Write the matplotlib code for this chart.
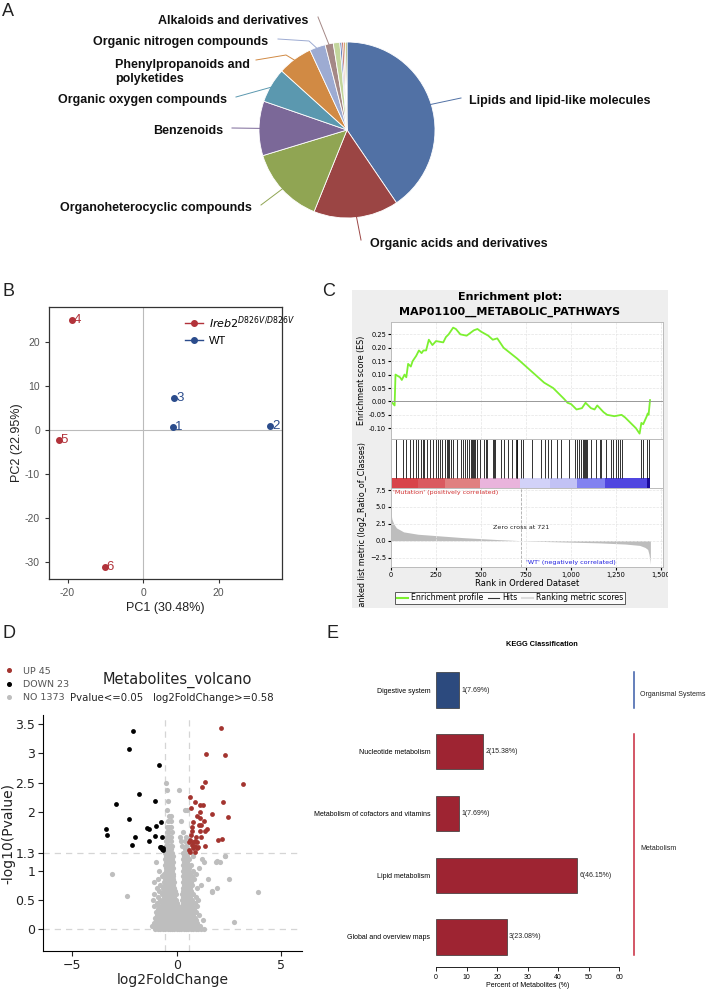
import matplotlib
matplotlib.use('Agg')
import matplotlib.pyplot as plt
import numpy as np
from matplotlib.lines import Line2D
from matplotlib.patches import Rectangle
from matplotlib.transforms import Bbox, TransformedBbox
from matplotlib.ticker import FuncFormatter

# ---------------- data ----------------
# A: compound classes (share of annotated metabolites, %)
pie_classes = ['Lipids and lipid-like molecules', 'Organic acids and derivatives',
               'Organoheterocyclic compounds', 'Benzenoids', 'Organic oxygen compounds',
               'Phenylpropanoids and\npolyketides', 'Organic nitrogen compounds',
               'Alkaloids and derivatives', '', '', '', '', '']
pie_share = [40.5, 15.6, 14.2, 10.0, 6.4, 6.4, 2.9, 1.5, 1.2, 0.35, 0.35, 0.3, 0.3]
pie_colors = ['#5171A5', '#9B4544', '#90A553', '#7B6898', '#5B98AF', '#D18A44',
              '#9DABD2', '#A48886', '#C3D59C', '#4F6FB0', '#B04A46', '#D08A46', '#91A552']

# B: PCA scores
pca_id = ['1', '2', '3', '4', '5', '6']
pca_pc1 = [8.0, 33.7, 8.2, -18.8, -22.3, -10.2]
pca_pc2 = [0.6, 0.8, 7.3, 24.9, -2.4, -31.1]
pca_group = ['WT', 'WT', 'WT', 'MUT', 'MUT', 'MUT']

# C: GSEA running enrichment score
es_rank = [0, 20, 25, 50, 60, 75, 85, 95, 110, 120, 140, 155, 170, 180, 195, 210, 230, 250,
           290, 305, 320, 335, 345, 360, 385, 420, 440, 460, 480, 500, 540, 565, 590, 625,
           700, 800, 850, 900, 960, 980, 1000, 1030, 1060, 1080, 1110, 1130, 1145, 1180,
           1200, 1240, 1280, 1300, 1330, 1360, 1380, 1390, 1400, 1410, 1420, 1425, 1430, 1438]
es_score = [0.0, -0.015, 0.10, 0.09, 0.08, 0.10, 0.09, 0.14, 0.13, 0.15, 0.17, 0.19, 0.18,
            0.19, 0.19, 0.23, 0.21, 0.225, 0.22, 0.24, 0.25, 0.265, 0.275, 0.27, 0.25, 0.245,
            0.255, 0.265, 0.27, 0.26, 0.245, 0.23, 0.235, 0.20, 0.16, 0.10, 0.07, 0.05, 0.01,
            -0.005, -0.01, -0.03, -0.025, -0.005, -0.025, -0.03, -0.015, -0.04, -0.05, -0.055,
            -0.05, -0.06, -0.08, -0.10, -0.12, -0.08, -0.085, -0.07, -0.055, -0.045, -0.05, 0.005]
hit_rank = [26, 65, 81, 105, 120, 139, 152, 165, 176, 183, 201, 216, 235, 250, 262, 272, 285,
            299, 309, 314, 323, 333, 346, 364, 388, 401, 410, 420, 433, 442, 447, 453, 460,
            466, 479, 494, 518, 527, 534, 567, 573, 580, 608, 627, 651, 673, 693, 697, 701,
            719, 734, 780, 835, 854, 872, 891, 919, 946, 987, 1020, 1030, 1044, 1057, 1067,
            1072, 1078, 1081, 1089, 1113, 1137, 1159, 1168, 1196, 1220, 1233, 1248, 1261,
            1274, 1285, 1386, 1399, 1421, 1433]
bar_start = [0, 150, 300, 495, 717, 880, 1032, 1190, 1421]
bar_end = [150, 300, 495, 717, 880, 1032, 1190, 1421, 1440]
bar_colors = ['#D8444A', '#DA5A60', '#E08080', '#E9B4DC', '#D2D2F8', '#C2C2F5',
              '#8282F0', '#5046E0', '#1A0A9A']
metric_rank = [0, 5, 15, 30, 70, 150, 290, 400, 500, 600, 721, 850, 1000, 1150, 1300,
               1380, 1410, 1425, 1432, 1438, 1440]
metric_value = [4.0, 3.2, 2.5, 1.9, 1.3, 0.95, 0.67, 0.45, 0.3, 0.15, 0.0, -0.12, -0.22,
                -0.32, -0.5, -0.7, -1.0, -1.3, -2.0, -3.0, -3.5]
zero_cross = 721

# D: volcano
n_up, n_down, n_no = 45, 23, 1373
up_x = [2.12, 1.39, 2.32, 3.16, 1.36, 1.19, 0.61, 0.85, 1.09, 1.27, 2.23, 0.66, 1.12, 1.70,
        2.45, 0.96, 1.09, 1.31, 0.80, 1.06, 1.17, 1.44, 1.33, 0.75, 0.72, 1.12, 0.67, 0.93,
        1.14, 1.97, 2.16, 0.64, 0.77, 0.85, 0.96, 0.59, 0.72, 0.88, 1.04, 1.33, 0.80, 0.64,
        0.85, 0.99, 0.60]
up_y = [3.43, 2.99, 2.97, 2.47, 2.51, 2.42, 2.25, 2.16, 2.12, 2.12, 2.16, 2.06, 2.00, 1.96,
        1.92, 1.93, 1.89, 1.85, 1.82, 1.78, 1.77, 1.70, 1.68, 1.75, 1.68, 1.68, 1.61, 1.57,
        1.57, 1.52, 1.54, 1.52, 1.49, 1.51, 1.48, 1.48, 1.44, 1.42, 1.40, 1.42, 1.38, 1.32,
        1.31, 1.38, 1.35]
down_x = [-2.12, -2.31, -0.85, -1.79, -2.90, -1.04, -2.28, -3.41, -3.33, -2.00, -2.16,
          -1.44, -1.33, -0.99, -0.77, -1.04, -1.31, -0.69, -0.80, -0.71, -0.64, -0.74, -0.67]
down_y = [3.37, 3.07, 2.79, 2.30, 2.13, 2.19, 1.87, 1.70, 1.60, 1.57, 1.43, 1.73, 1.70,
          1.76, 1.82, 1.59, 1.51, 1.58, 1.40, 1.37, 1.38, 1.41, 1.35]
# non-significant cloud, read row by row (y, x values)
ns_rows = [
    (0.01, [-1.05, -0.9, -0.78, -0.66, -0.55, -0.44, -0.33, -0.22, -0.11, 0.0, 0.11, 0.22,
            0.33, 0.44, 0.55, 0.66, 0.78, 0.9, 1.02, 1.15, 1.3]),
    (0.05, [-1.2, -0.98, -0.84, -0.72, -0.6, -0.49, -0.38, -0.27, -0.16, -0.05, 0.06, 0.17,
            0.28, 0.39, 0.5, 0.61, 0.72, 0.84, 0.97, 1.1]),
    (0.10, [-1.1, -0.92, -0.78, -0.66, -0.55, -0.44, -0.33, -0.22, -0.11, 0.0, 0.11, 0.22,
            0.33, 0.44, 0.55, 0.68, 0.82, 0.96]),
    (0.15, [-1.0, -0.85, -0.72, -0.6, -0.49, -0.38, -0.27, -0.16, -0.05, 0.06, 0.17, 0.28,
            0.39, 0.5, 0.62, 0.75, 0.9, 1.25]),
    (0.20, [-1.05, -0.9, -0.77, -0.65, -0.54, -0.43, -0.32, -0.21, -0.1, 0.01, 0.12, 0.23,
            0.34, 0.45, 0.57, 0.7, 0.86]),
    (0.25, [-0.95, -0.8, -0.68, -0.57, -0.46, -0.35, -0.24, -0.13, -0.02, 0.09, 0.2, 0.31,
            0.42, 0.53, 0.65, 0.8, 1.05]),
    (0.30, [-1.0, -0.83, -0.7, -0.6, -0.5, -0.4, -0.3, -0.2, -0.1, 0.0, 0.12, 0.25, 0.36,
            0.47, 0.58, 0.72, 0.9]),
    (0.35, [-0.9, -0.75, -0.63, -0.53, -0.43, -0.33, -0.23, -0.13, -0.03, 0.08, 0.2, 0.31,
            0.42, 0.53, 0.65, 0.82]),
    (0.40, [-1.1, -0.85, -0.68, -0.57, -0.47, -0.37, -0.27, -0.17, -0.07, 0.04, 0.26, 0.37,
            0.48, 0.6, 0.75, 0.95]),
    (0.45, [-0.95, -0.72, -0.6, -0.5, -0.4, -0.3, -0.2, -0.1, 0.0, 0.3, 0.42, 0.53, 0.66, 0.85]),
    (0.50, [-1.15, -0.8, -0.65, -0.54, -0.44, -0.34, -0.24, -0.14, -0.04, 0.25, 0.36, 0.47,
            0.58, 0.72, 1.0]),
    (0.55, [-0.88, -0.62, -0.51, -0.41, -0.31, -0.21, -0.11, 0.3, 0.41, 0.52, 0.65, 0.9]),
    (0.60, [-1.1, -0.7, -0.56, -0.46, -0.36, -0.26, -0.16, -0.06, 0.27, 0.38, 0.49, 0.6, 0.78]),
    (0.65, [-0.85, -0.6, -0.5, -0.4, -0.3, -0.2, -0.1, 0.32, 0.43, 0.54, 0.7, 1.7]),
    (0.70, [-0.95, -0.65, -0.54, -0.44, -0.34, -0.24, -0.14, 0.28, 0.39, 0.5, 0.62, 0.95]),
    (0.75, [-0.78, -0.58, -0.48, -0.38, -0.28, -0.18, 0.33, 0.45, 0.56, 0.75, 1.15]),
    (0.80, [-1.1, -0.62, -0.52, -0.42, -0.32, -0.22, -0.12, 0.3, 0.41, 0.52, 0.66]),
    (0.85, [-0.88, -0.56, -0.46, -0.36, -0.26, -0.16, 0.35, 0.47, 0.6, 0.82, 1.5]),
    (0.90, [-0.7, -0.5, -0.4, -0.3, -0.2, 0.3, 0.42, 0.54, 0.72]),
    (0.95, [-0.6, -0.48, -0.38, -0.28, -0.18, 0.35, 0.47, 0.62, 0.9]),
    (1.00, [-0.85, -0.54, -0.44, -0.34, -0.24, 0.28, 0.4, 0.52, 0.8]),
    (1.05, [-0.5, -0.4, -0.3, -0.2, 0.33, 0.45, 0.58, 1.05]),
    (1.10, [-0.55, -0.45, -0.35, -0.25, 0.3, 0.42, 0.55, 0.7]),
    (1.15, [-1.0, -0.5, -0.4, -0.3, -0.2, 0.35, 0.48, 1.3, 1.9]),
    (1.20, [-0.55, -0.45, -0.35, -0.25, 0.3, 0.42, 0.6, 1.2]),
    (1.25, [-0.5, -0.4, -0.3, -0.2, 0.36, 0.5, 0.8, 2.3]),
    (1.30, [-0.55, -0.45, -0.35, -0.25, 0.3, 0.45]),
    (1.36, [-0.5, -0.4, -0.3, 0.38, 0.5]),
    (1.42, [-0.52, -0.42, -0.32, -0.22, 0.25, 0.45]),
    (1.50, [-0.5, -0.4, -0.3, 0.2, 0.4]),
    (1.58, [-0.48, -0.38, -0.28, 0.15, 0.45]),
    (1.66, [-0.45, -0.35, -0.25, 0.3]),
    (1.75, [-0.45, -0.35, -0.27]),
    (1.84, [-0.4, -0.3, 0.22]),
    (1.93, [-0.38, -0.3]),
    (2.03, [-0.45, 0.4, 0.48]),
    (2.18, [-0.42]),
    (2.38, [-0.48, 0.11]),
    (2.50, [-0.51]),
]
ns_extra_x = [-3.09, -2.40, 3.89, 2.72, 2.50, 2.08, 2.32, 1.92, 1.68, 1.92]
ns_extra_y = [0.94, 0.57, 0.64, 0.13, 0.85, 1.14, 1.25, 0.70, 0.63, 1.17]
ns_x = [x for y, xs in ns_rows for x in xs] + ns_extra_x
ns_y = [y for y, xs in ns_rows for x in xs] + ns_extra_y

# E: KEGG classification
kegg_terms = ['Global and overview maps', 'Lipid metabolism',
              'Metabolism of cofactors and vitamins', 'Nucleotide metabolism', 'Digestive system']
kegg_count = [3, 6, 1, 2, 1]
kegg_pct = [23.08, 46.15, 7.69, 15.38, 7.69]
kegg_class = ['Metabolism', 'Metabolism', 'Metabolism', 'Metabolism', 'Organismal Systems']

# ---------------- figure ----------------
W, H = 706, 993
fig = plt.figure(figsize=(W / 100, H / 100), dpi=100)
SANS = ['Liberation Sans', 'DejaVu Sans']


def box(x0, y0, x1, y1):
    return fig.add_axes([x0 / W, 1 - y1 / H, (x1 - x0) / W, (y1 - y0) / H])


def ftext(x, y, s, **kw):
    return fig.text(x / W, 1 - y / H, s, **kw)


for letter, (lx, ly) in zip('ABCDE', [(2, 12), (2, 292), (322, 292), (2, 634), (327, 634)]):
    ftext(lx, ly, letter, fontsize=13, va='center', ha='left', family=SANS, color='#222222')

# ---- A: pie ----
axA = box(0, 0, 706, 280)
cx, cy, r = 347, 150, 88
wedges, _ = axA.pie(pie_share, colors=pie_colors, startangle=90, counterclock=False,
                    center=(cx, cy), radius=r,
                    wedgeprops=dict(edgecolor='white', linewidth=0.6))
axA.set_xlim(0, 706)
axA.set_ylim(0, 280)
axA.set_aspect('equal')
axA.axis('off')

label_layout = {
    0: (469, 101, 'left', [(461, 98)]),
    1: (370, 244, 'left', [(361, 240)]),
    2: (252, 208, 'right', [(261, 205)]),
    3: (223, 131, 'right', [(232, 128)]),
    4: (227, 100, 'right', [(236, 97)]),
    5: (115, 72, 'left', [(256, 60), (286, 55)]),
    6: (268, 42, 'right', [(278, 39), (309, 41)]),
    7: (308, 21, 'right', [(318, 17)]),
}
pie_font = ['Liberation Sans Narrow', 'Liberation Sans', 'DejaVu Sans']
for i, (tx, ty, ha, pts) in label_layout.items():
    w = wedges[i]
    mid = np.deg2rad((w.theta1 + w.theta2) / 2)
    sx, sy = cx + 0.97 * r * np.cos(mid), cy + 0.97 * r * np.sin(mid)
    xs = [p[0] for p in pts] + [sx]
    ys = [280 - p[1] for p in pts] + [sy]
    axA.plot(xs, ys, color=pie_colors[i], lw=0.7)
    axA.text(tx, 280 - ty, pie_classes[i], ha=ha, va='center', fontsize=9,
             fontweight='bold', family=pie_font, color='#111111', linespacing=1.25)

# ---- B: PCA ----
grp_color = {'MUT': '#B2323A', 'WT': '#2B4C8C'}
axB = box(49, 307, 282, 579)
axB.axhline(0, color='#BBBBBB', lw=0.8, zorder=0)
axB.axvline(0, color='#BBBBBB', lw=0.8, zorder=0)
for pid, x, y, g in zip(pca_id, pca_pc1, pca_pc2, pca_group):
    axB.scatter(x, y, s=16, color=grp_color[g], zorder=3)
    axB.annotate(pid, (x, y), xytext=(1.5, 0), textcoords='offset points', ha='left',
                 va='center', fontsize=9.5, color=grp_color[g], family=SANS)
axB.set_xlim(-24.9, 36.8)
axB.set_ylim(-33.9, 27.9)
axB.set_xticks([-20, 0, 20])
axB.set_xticklabels(['-20', '0', '20'])
axB.set_yticks([-30, -20, -10, 0, 10, 20])
axB.set_yticklabels(['-30', '-20', '-10', '0', '10', '20'])
axB.tick_params(labelsize=7.5, colors='#333333', labelcolor='#555555', length=3)
for sp in axB.spines.values():
    sp.set_color('#333333')
    sp.set_linewidth(0.9)
axB.set_xlabel('PC1 (30.48%)', fontsize=9, family=SANS, color='#222222', labelpad=3)
axB.set_ylabel('PC2 (22.95%)', fontsize=9, family=SANS, color='#222222', labelpad=1)
for t in axB.get_xticklabels() + axB.get_yticklabels():
    t.set_family(SANS)
legB = [Line2D([], [], color=grp_color['MUT'], marker='o', ms=4, lw=1),
        Line2D([], [], color=grp_color['WT'], marker='o', ms=4, lw=1)]
axB.legend(legB, [r'$\mathit{Ireb2}^{\mathit{D826V/D826V}}$', 'WT'], loc='upper left',
           bbox_to_anchor=(175 / W, 1 - 304 / H), bbox_transform=fig.transFigure,
           frameon=False, handlelength=1.6, handletextpad=0.6,
           labelspacing=0.5, prop={'family': SANS, 'size': 8})

# ---- C: GSEA ----
fig.patches.append(Rectangle((352 / W, 1 - 608 / H), 316 / W, 318 / H,
                             transform=fig.transFigure, facecolor='#EEEEEE',
                             edgecolor='none', zorder=-1))
ftext(510, 297, 'Enrichment plot:', ha='center', va='center', fontsize=8, fontweight='bold')
ftext(510, 312, 'MAP01100__METABOLIC_PATHWAYS', ha='center', va='center', fontsize=8,
      fontweight='bold')
clipC = TransformedBbox(Bbox.from_extents(352 / W, 1 - 608 / H, 668 / W, 1 - 290 / H),
                        fig.transFigure)
xmax = 1510
axES = box(391, 322, 663, 439)
axES.plot(es_rank, es_score, color='#7CF030', lw=1.3)
axES.axhline(0, color='#999999', lw=0.7)
axES.set_xlim(0, xmax)
axES.set_ylim(-0.14, 0.296)
axES.set_yticks([0.25, 0.20, 0.15, 0.10, 0.05, 0.0, -0.05, -0.10])
axES.yaxis.set_major_formatter(FuncFormatter(lambda v, p: f'{v:.2f}'))
axES.set_xticks(range(0, 1501, 250))
axES.tick_params(axis='x', length=0, labelbottom=False)
axES.tick_params(axis='y', labelsize=4.8, length=2, pad=1.5)
axES.grid(True, color='#E4E4E4', lw=0.5, ls='--')
axES.set_ylabel('Enrichment score (ES)', fontsize=5.8, labelpad=2)

axH = box(391, 439, 663, 488)
axH.vlines(hit_rank, 0.2, 1.0, color='#111111', lw=0.6)
axH.broken_barh([(s, e - s) for s, e in zip(bar_start, bar_end)], (0, 0.2),
                facecolors=bar_colors)
axH.set_xlim(0, xmax)
axH.set_ylim(0, 1)
axH.set_xticks([])
axH.set_yticks([])

axM = box(391, 488, 663, 567)
axM.fill_between(metric_rank, metric_value, 0, color='#BDBDBD', lw=0)
axM.axvline(zero_cross, color='#AAAAAA', lw=0.6, ls='--')
axM.set_xlim(0, xmax)
axM.set_ylim(-3.9, 7.8)
axM.set_yticks([7.5, 5.0, 2.5, 0.0, -2.5])
axM.set_xticks(range(0, 1501, 250))
axM.xaxis.set_major_formatter(FuncFormatter(lambda v, p: f'{int(v):,}'))
axM.tick_params(labelsize=4.8, length=2, pad=1.5)
axM.grid(True, color='#E4E4E4', lw=0.5, ls='--')
axM.text(10, 7.15, "'Mutation' (positively correlated)", color='#D03030', fontsize=4.6,
         va='center')
axM.text(zero_cross, 1.9, f'Zero cross at {zero_cross}', color='#222222', fontsize=4.6,
         ha='center', va='center')
axM.text(750, -3.2, "'WT' (negatively correlated)", color='#2020E0', fontsize=4.6,
         va='center')
axM.set_xlabel('Rank in Ordered Dataset', fontsize=6, labelpad=1)
ylab = axM.set_ylabel('Ranked list metric (log2_Ratio_of_Classes)', fontsize=5.8, labelpad=2)
ylab.set_clip_box(clipC)
ylab.set_clip_on(True)
for t in axM.get_xticklabels():
    t.set_clip_box(clipC)
    t.set_clip_on(True)
for a in (axES, axH, axM):
    for sp in a.spines.values():
        sp.set_color('#BBBBBB')
        sp.set_linewidth(0.7)
legC = [Line2D([], [], color='#7CF030', lw=1.5), Line2D([], [], color='#333333', lw=0.8),
        Line2D([], [], color='#DDDDDD', lw=1.5)]
legc = axM.legend(legC, ['Enrichment profile', 'Hits', 'Ranking metric scores'],
                  loc='center', bbox_to_anchor=(510 / W, 1 - 598 / H),
                  bbox_transform=fig.transFigure, ncol=3, fontsize=5.6, frameon=True,
                  fancybox=False, edgecolor='#333333', handlelength=1.4, handletextpad=0.4,
                  columnspacing=0.6, borderpad=0.25)
legc.get_frame().set_linewidth(0.7)

# ---- D: volcano ----
col_up, col_down, col_no = '#A3342F', '#000000', '#BEBEBE'
axD = box(43, 715, 302, 951)
axD.scatter(ns_x, ns_y, s=14, color=col_no, lw=0)
axD.scatter(down_x, down_y, s=12, color=col_down, lw=0)
axD.scatter(up_x, up_y, s=12, color=col_up, lw=0)
for v in (-0.58, 0.58):
    axD.axvline(v, color='#D5D5D5', lw=0.9, ls=(0, (5, 4)), zorder=0)
for v in (1.3, 0):
    axD.axhline(v, color='#D5D5D5', lw=0.9, ls=(0, (5, 4)), zorder=0)
axD.set_xlim(-6.41, 6.0)
axD.set_ylim(-0.37, 3.65)
axD.set_xticks([-5, 0, 5])
axD.set_xticklabels(['\u22125', '0', '5'])
axD.set_yticks([0, 0.5, 1, 1.3, 2, 2.5, 3, 3.5])
axD.set_yticklabels(['0', '0.5', '1', '1.3', '2', '2.5', '3', '3.5'])
axD.tick_params(labelsize=9, length=3.5, width=0.8, pad=2, colors='#222222')
axD.spines['top'].set_visible(False)
axD.spines['right'].set_visible(False)
axD.set_xlabel('log2FoldChange', fontsize=10, labelpad=1, color='#222222')
axD.set_ylabel('-log10(Pvalue)', fontsize=10, labelpad=0, color='#222222')
ftext(177, 680, 'Metabolites_volcano', ha='center', va='center', fontsize=10.5, color='#222222')
ftext(172, 698, 'Pvalue<=0.05   log2FoldChange>=0.58', ha='center', va='center',
      fontsize=7.3, color='#222222')
legD = [Line2D([], [], ls='', marker='o', ms=2.6, color=c) for c in (col_up, col_down, col_no)]
axD.legend(legD, [f'UP {n_up}', f'DOWN {n_down}', f'NO {n_no}'], loc='upper left',
           bbox_to_anchor=(0 / W, 1 - 662 / H), bbox_transform=fig.transFigure,
           frameon=False, fontsize=6.8, handlelength=1.0, handletextpad=0.9,
           labelspacing=0.45, labelcolor='#555555', borderaxespad=0.1)

# ---- E: KEGG ----
class_bar = {'Metabolism': '#9E2432', 'Organismal Systems': '#2C4A7E'}
class_line = {'Metabolism': '#C8283C', 'Organismal Systems': '#3A5DA8'}
axE = box(436, 660, 619.3, 967)
ypos = np.arange(len(kegg_terms))
axE.barh(ypos, kegg_pct, height=0.57, color=[class_bar[c] for c in kegg_class],
         edgecolor='#333333', linewidth=0.5)
for y, n, p in zip(ypos, kegg_count, kegg_pct):
    axE.text(p + 0.8, y, f'{n}({p:.2f}%)', va='center', ha='left', fontsize=5,
             family=SANS, color='#222222')
axE.set_xlim(0, 60)
axE.set_ylim(-0.486, 4.486)
axE.set_yticks(ypos)
axE.set_yticklabels(kegg_terms)
axE.set_xticks(range(0, 61, 10))
axE.tick_params(axis='y', length=0, pad=4, labelsize=5)
axE.tick_params(axis='x', length=3, width=0.6, pad=2, labelsize=5)
for t in axE.get_xticklabels() + axE.get_yticklabels():
    t.set_family(SANS)
for s in ('left', 'top', 'right'):
    axE.spines[s].set_visible(False)
axE.spines['bottom'].set_linewidth(0.6)
axE.set_xlabel('Percent of Metabolites (%)', fontsize=5, family=SANS, labelpad=1)
ftext(541.7, 645, 'KEGG Classification', ha='center', va='center', fontsize=5.3,
      fontweight='bold', family=SANS)
for cls in ['Organismal Systems', 'Metabolism']:
    idx = [i for i, c in enumerate(kegg_class) if c == cls]
    lo, hi = min(idx) - 0.29, max(idx) + 0.29
    axE.plot([64.9, 64.9], [lo, hi], color=class_line[cls], lw=1.1, clip_on=False)
    axE.text(66.8, (min(idx) + max(idx)) / 2 - 0.07, cls, fontsize=5, va='center',
             ha='left', family=SANS, color='#222222', clip_on=False)

fig.savefig('out.png', dpi=100)
